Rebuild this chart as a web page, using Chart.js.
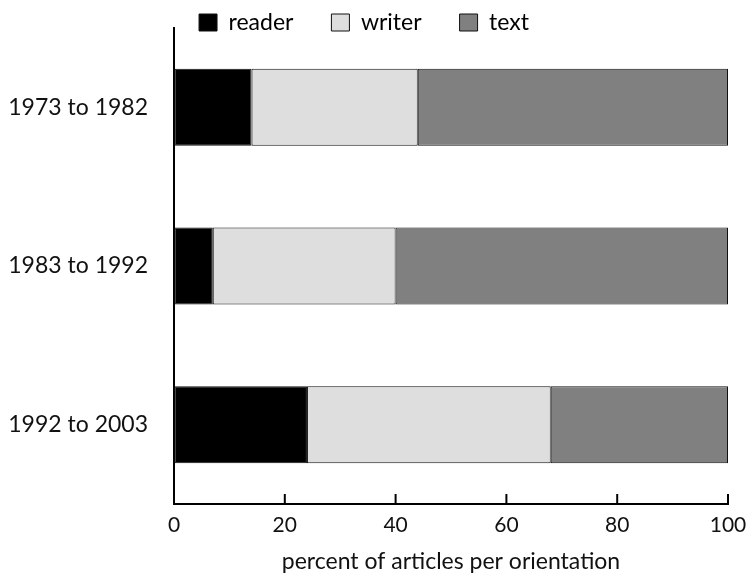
<!DOCTYPE html>
<html>
<head>
<meta charset="utf-8">
<script src="https://cdn.jsdelivr.net/npm/chart.js@4"></script>
<style>
	body { margin: 0; background: #fff; }
	#wrap { width: 747px; height: 574px; }
</style>
</head>
<body>
<div id="wrap"><canvas id="chart" width="747" height="574"></canvas></div>
<script>
const periods = ["1973 to 1982", "1983 to 1992", "1992 to 2003"];
const readerValues = [14, 7, 24];
const writerValues = [30, 33, 44];
const textValues = [56, 60, 32];
const xTicks = [0, 20, 40, 60, 80, 100];

const fontFamily = "Lato, 'Open Sans', sans-serif";

// tick marks point up into the plot, so draw them by hand
const innerTicks = {
	id: "innerTicks",
	afterDraw(chart) {
		const x = chart.scales.x;
		const ctx = chart.ctx;
		ctx.save();
		ctx.strokeStyle = "#000";
		ctx.lineWidth = 2;
		x.ticks.forEach((t) => {
			const px = x.getPixelForValue(t.value);
			ctx.beginPath();
			ctx.moveTo(px, x.top);
			ctx.lineTo(px, x.top - 10);
			ctx.stroke();
		});
		ctx.restore();
	},
};

// keep the legend short so the plot starts right under it
const tightLegend = {
	id: "tightLegend",
	afterInit(chart) {
		const lg = chart.legend;
		if (!lg) return;
		const fit = lg.fit.bind(lg);
		lg.fit = function () {
			fit();
			this.height = 28;
		};
		const draw = lg.draw.bind(lg);
		lg.draw = function () {
			const top = this.top;
			const bottom = this.bottom;
			this.top = top - 27;
			this.bottom = bottom + 30;
			draw();
			this.top = top;
			this.bottom = bottom;
		};
	},
};

function makeDataset(label, values, color) {
	return {
		label: label,
		data: values,
		backgroundColor: color,
		borderColor: "#111",
		borderWidth: 1,
		borderSkipped: false,
		barPercentage: 0.485,
		categoryPercentage: 1,
	};
}

new Chart(document.getElementById("chart"), {
	type: "bar",
	data: {
		labels: periods,
		datasets: [
			makeDataset("reader", readerValues, "#000000"),
			makeDataset("writer", writerValues, "#dedede"),
			makeDataset("text", textValues, "#808080"),
		],
	},
	plugins: [innerTicks, tightLegend],
	options: {
		indexAxis: "y",
		responsive: false,
		animation: false,
		layout: {
			padding: { top: 0, right: 19, bottom: 0, left: 0 },
		},
		plugins: {
			tooltip: { enabled: false },
			legend: {
				position: "top",
				labels: {
					color: "#111",
					font: { family: fontFamily, size: 23 },
					boxWidth: 18,
					boxHeight: 17,
					padding: 38,
					generateLabels(chart) {
						return chart.data.datasets.map((ds, i) => ({
							text: ds.label,
							fillStyle: ds.backgroundColor,
							strokeStyle: "#111",
							lineWidth: 1,
							datasetIndex: i,
						}));
					},
				},
			},
		},
		scales: {
			x: {
				stacked: true,
				min: 0,
				max: 100,
				afterBuildTicks(scale) {
					scale.ticks = xTicks.map((v) => ({ value: v }));
				},
				afterFit(scale) {
					scale.height = 70;
					scale.paddingRight = 0;
				},
				grid: { display: true, drawOnChartArea: false, drawTicks: false },
				border: { display: true, color: "#000", width: 2 },
				ticks: {
					color: "#111",
					padding: 9,
					maxRotation: 0,
					font: { family: fontFamily, size: 21 },
				},
				title: {
					display: true,
					text: "percent of articles per orientation",
					color: "#111",
					padding: { top: 6, bottom: -1 },
					font: { family: fontFamily, size: 23 },
				},
			},
			y: {
				stacked: true,
				afterFit(scale) {
					scale.width = 174;
					scale.paddingTop = 0;
					scale.paddingBottom = 0;
				},
				grid: { display: false, drawTicks: false },
				border: { display: true, color: "#000", width: 2 },
				ticks: {
					color: "#111",
					padding: 26,
					font: { family: fontFamily, size: 23 },
				},
			},
		},
	},
});
</script>
</body>
</html>
